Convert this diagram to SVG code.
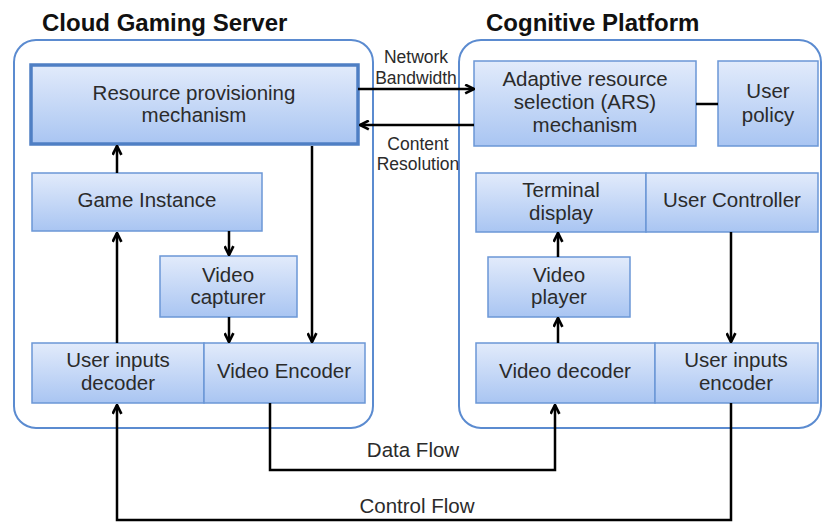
<svg xmlns="http://www.w3.org/2000/svg" width="822" height="523" viewBox="0 0 822 523">
<defs>
<linearGradient id="g" x1="0" y1="0" x2="0" y2="1">
<stop offset="0" stop-color="#e2ebfb"/>
<stop offset="1" stop-color="#a9c5f2"/>
</linearGradient>
<marker id="ah" viewBox="0 0 10 10" refX="9" refY="5" markerWidth="11" markerHeight="11" markerUnits="userSpaceOnUse" orient="auto">
<path d="M1,1 L9,5 L1,9" fill="none" stroke="#000" stroke-width="2.4"/>
</marker>
<style>
.cont{fill:#fff;stroke:#5b8bd0;stroke-width:2}
.box{fill:url(#g);stroke:#6b97d6;stroke-width:1.5}
.main{fill:url(#g);stroke:#4f7fc4;stroke-width:3.5}
.t{font-family:"Liberation Sans",Arial,sans-serif;font-size:20.5px;fill:#2b2b2b;text-anchor:middle}
.s{font-family:"Liberation Sans",Arial,sans-serif;font-size:17.5px;fill:#2b2b2b;text-anchor:middle}
.h{font-family:"Liberation Sans",Arial,sans-serif;font-size:24px;font-weight:bold;fill:#111}
.c{fill:none;stroke:#000;stroke-width:2.5}
</style>
</defs>
<rect width="822" height="523" fill="#fff"/>
<g id="cloud-gaming-server">
<rect class="cont" x="14" y="40" width="359" height="388" rx="22"/>
<text class="h" x="42" y="31">Cloud Gaming Server</text>
</g>
<g id="cognitive-platform">
<rect class="cont" x="459" y="40" width="362" height="388" rx="22"/>
<text class="h" x="486" y="31">Cognitive Platform</text>
</g>
<g id="resource-provisioning">
<rect class="main" x="31" y="65" width="327" height="79"/>
<text class="t" x="194" y="100">Resource provisioning</text>
<text class="t" x="194" y="122">mechanism</text>
</g>
<g id="game-instance">
<rect class="box" x="32" y="173" width="230" height="58"/>
<text class="t" x="147" y="207">Game Instance</text>
</g>
<g id="video-capturer">
<rect class="box" x="160" y="256" width="137" height="61"/>
<text class="t" x="228" y="282">Video</text>
<text class="t" x="228" y="304">capturer</text>
</g>
<g id="user-inputs-decoder">
<rect class="box" x="32" y="343" width="172" height="60"/>
<text class="t" x="118" y="367">User inputs</text>
<text class="t" x="118" y="390">decoder</text>
</g>
<g id="video-encoder">
<rect class="box" x="204" y="343" width="161" height="60"/>
<text class="t" x="284" y="378">Video Encoder</text>
</g>
<g id="ars">
<rect class="box" x="474" y="61" width="222" height="85"/>
<text class="t" x="585" y="86">Adaptive resource</text>
<text class="t" x="585" y="109">selection (ARS)</text>
<text class="t" x="585" y="132">mechanism</text>
</g>
<g id="user-policy">
<rect class="box" x="718" y="61" width="100" height="85"/>
<text class="t" x="768" y="98">User</text>
<text class="t" x="768" y="122">policy</text>
</g>
<g id="terminal-display">
<rect class="box" x="476" y="173" width="170" height="59"/>
<text class="t" x="561" y="197">Terminal</text>
<text class="t" x="561" y="220">display</text>
</g>
<g id="user-controller">
<rect class="box" x="646" y="173" width="172" height="59"/>
<text class="t" x="732" y="207">User Controller</text>
</g>
<g id="video-player">
<rect class="box" x="488" y="257" width="142" height="60"/>
<text class="t" x="559" y="282">Video</text>
<text class="t" x="559" y="304">player</text>
</g>
<g id="video-decoder">
<rect class="box" x="476" y="343" width="179" height="60"/>
<text class="t" x="565" y="378">Video decoder</text>
</g>
<g id="user-inputs-encoder">
<rect class="box" x="655" y="343" width="163" height="60"/>
<text class="t" x="736" y="367">User inputs</text>
<text class="t" x="736" y="390">encoder</text>
</g>
<g id="connectors">
<line class="c" x1="358" y1="89" x2="474" y2="89" marker-end="url(#ah)"/>
<line class="c" x1="474" y1="125" x2="360" y2="125" marker-end="url(#ah)"/>
<line class="c" x1="696" y1="104" x2="718" y2="104"/>
<line class="c" x1="117" y1="173" x2="117" y2="146" marker-end="url(#ah)"/>
<line class="c" x1="117" y1="343" x2="117" y2="233" marker-end="url(#ah)"/>
<line class="c" x1="229" y1="231" x2="229" y2="255" marker-end="url(#ah)"/>
<line class="c" x1="229" y1="317" x2="229" y2="342" marker-end="url(#ah)"/>
<line class="c" x1="312" y1="146" x2="312" y2="342" marker-end="url(#ah)"/>
<line class="c" x1="558" y1="257" x2="558" y2="233" marker-end="url(#ah)"/>
<line class="c" x1="558" y1="343" x2="558" y2="318" marker-end="url(#ah)"/>
<line class="c" x1="731" y1="232" x2="731" y2="342" marker-end="url(#ah)"/>
<polyline class="c" points="270,403 270,470 555,470 555,405" marker-end="url(#ah)"/>
<polyline class="c" points="731,403 731,520 117,520 117,405" marker-end="url(#ah)"/>
<text class="s" x="416" y="63">Network</text>
<text class="s" x="416" y="84">Bandwidth</text>
<text class="s" x="418" y="150">Content</text>
<text class="s" x="418" y="170">Resolution</text>
<text class="t" x="413" y="457">Data Flow</text>
<text class="t" x="417" y="513">Control Flow</text>
</g>
</svg>
